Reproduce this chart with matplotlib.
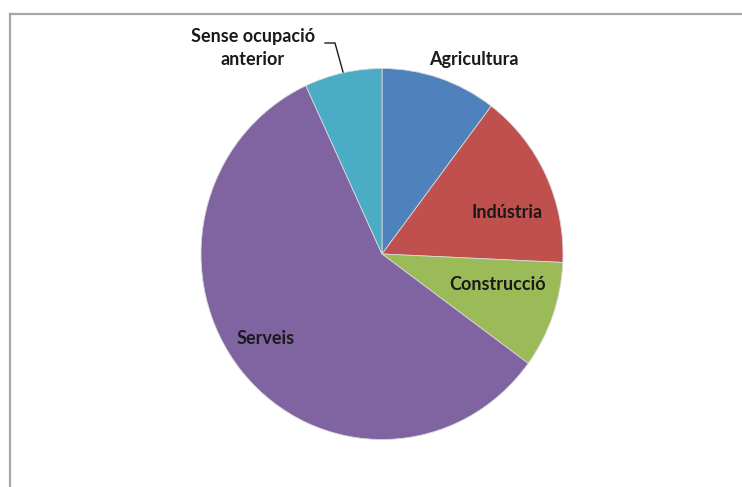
import matplotlib
matplotlib.use("Agg")
import matplotlib.pyplot as plt
from matplotlib.lines import Line2D

# dades del grafic (percentatges llegits de la imatge)
sectors = ['Agricultura', 'Indústria', 'Construcció', 'Serveis', 'Sense ocupació\nanterior']
valors = [10.3, 15.4, 9.3, 58.0, 6.9]
colors = ['#4F81BD', '#C0504D', '#9BBB59', '#8064A2', '#4BACC6']

W, H = 742, 487
fig = plt.figure(figsize=(W / 100, H / 100), dpi=100)
fig.patch.set_facecolor('white')

# centre i radis del pastis en pixels
cx, cy, rx, ry = 382, 254, 181, 185.5
ax = fig.add_axes([(cx - rx) / W, (H - cy - ry) / H, 2 * rx / W, 2 * ry / H])
ax.pie(valors, colors=colors, startangle=90, counterclock=False,
       wedgeprops=dict(linewidth=0.6, edgecolor='#d8d8d8'))
ax.set_aspect('auto')
ax.set_xlim(-1, 1)
ax.set_ylim(-1, 1)

def pos(px, py):
    return (px - cx) / rx, (cy - py) / ry

font = dict(family='Lato', fontweight='bold', fontsize=13, color='#1a1a1a',
            ha='center', va='center')
llocs = [(474, 60), (507, 212), (498, 285), (266, 339), (253, 48)]
for nom, (px, py) in zip(sectors, llocs):
    x, y = pos(px, py)
    ax.text(x, y, nom, clip_on=False, linespacing=1.45, **font)

# linia guia de "Sense ocupacio anterior"
gx, gy = zip(pos(325, 43), pos(335, 43), pos(343, 72))
ax.plot(gx, gy, color='#1a1a1a', lw=1, clip_on=False)

# marc gris (nomes superior i esquerre visibles)
fig.add_artist(Line2D([10 / W, 1], [1 - 14 / H, 1 - 14 / H], color='#a6a6a6', lw=1.6))
fig.add_artist(Line2D([10 / W, 10 / W], [0, 1 - 14 / H], color='#a6a6a6', lw=1.6))

fig.savefig('out.png', dpi=100)
